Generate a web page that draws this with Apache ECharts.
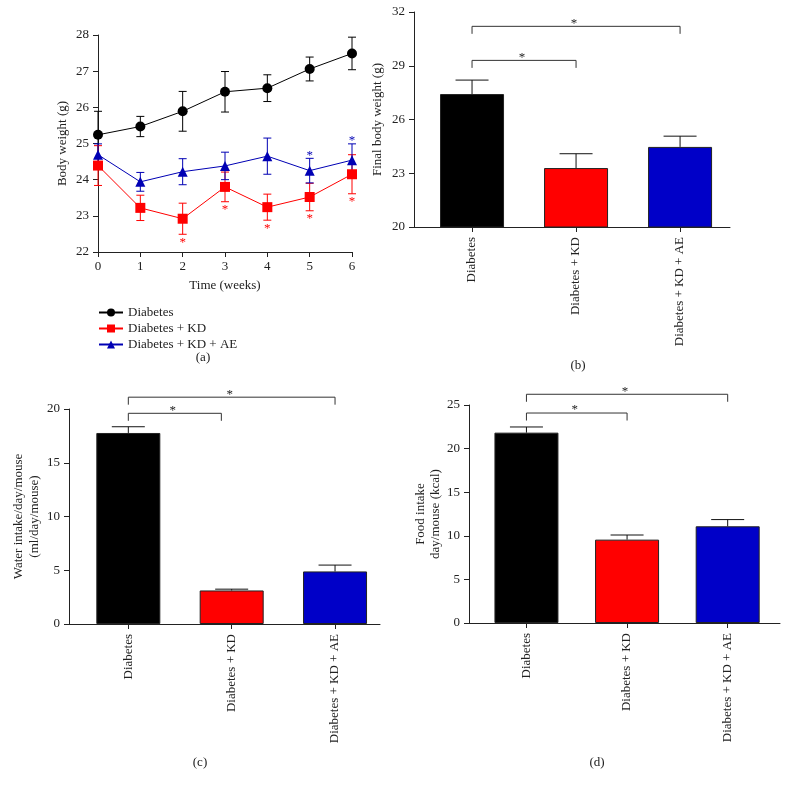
<!DOCTYPE html>
<html><head><meta charset="utf-8">
<script src="https://cdn.jsdelivr.net/npm/echarts@6/dist/echarts.min.js"></script>
<style>html,body{margin:0;padding:0;background:#fff}#c{width:793px;height:789px}</style>
</head><body><div id="c"></div>
<script>
// ---------- data ----------
const weeks = [0, 1, 2, 3, 4, 5, 6];
const seriesNames = ['Diabetes', 'Diabetes + KD', 'Diabetes + KD + AE'];
const bwDiabetes = [25.24, 25.47, 25.89, 26.43, 26.53, 27.06, 27.49];
const bwDiabetesErr = [0.65, 0.28, 0.55, 0.56, 0.37, 0.33, 0.45];
const bwKD = [24.39, 23.22, 22.92, 23.80, 23.24, 23.52, 24.15];
const bwKDErr = [0.55, 0.35, 0.43, 0.41, 0.36, 0.38, 0.54];
const bwAE = [24.69, 23.94, 24.22, 24.38, 24.65, 24.25, 24.54];
const bwAEErr = [0.30, 0.26, 0.36, 0.38, 0.50, 0.34, 0.45];
const kdSig = [false, false, true, true, true, true, true];
const aeSig = [false, false, false, false, false, true, true];

const groups = ['Diabetes', 'Diabetes + KD', 'Diabetes + KD + AE'];
const finalBW = [27.42, 23.29, 24.47];
const finalBWErr = [0.78, 0.80, 0.60];
const water = [17.77, 3.12, 4.89];
const waterErr = [0.58, 0.12, 0.59];
const food = [21.83, 9.56, 11.09];
const foodErr = [0.65, 0.53, 0.77];

// significance brackets: [from group, to group, level]
const finalBWBrackets = [[0, 1, 29.3], [0, 2, 31.2]];
const waterBrackets = [[0, 0.9, 19.6], [0, 2, 21.1]];
const foodBrackets = [[0, 1, 24.08], [0, 2, 26.23]];

const yTicksA = [22, 28, 1];
const yTicksB = [20, 32, 3];
const yTicksC = [0, 20, 5];
const yTicksD = [0, 25, 5];

// ---------- styles ----------
const FONT = 'Liberation Serif';
const TXT = '#222';
const lineColors = ['#000000', '#ff0000', '#0000b4'];
const barColors = ['#000000', '#ff0000', '#0000c8'];

const chart = echarts.init(document.getElementById('c'), null, {renderer: 'canvas'});

function errItemBoth(params, api) {
  const x = api.value(0), y = api.value(1), e = api.value(2);
  const c = api.visual('color');
  const t = api.coord([x, y + e]), b = api.coord([x, y - e]);
  const w = 4;
  return {type: 'group', children: [
    {type: 'line', shape: {x1: t[0], y1: t[1], x2: b[0], y2: b[1]}, style: {stroke: c, lineWidth: 1}},
    {type: 'line', shape: {x1: t[0] - w, y1: t[1], x2: t[0] + w, y2: t[1]}, style: {stroke: c, lineWidth: 1}},
    {type: 'line', shape: {x1: b[0] - w, y1: b[1], x2: b[0] + w, y2: b[1]}, style: {stroke: c, lineWidth: 1}}
  ]};
}
function errItemUp(params, api) {
  const x = api.value(0), y = api.value(1), e = api.value(2);
  const t = api.coord([x, y + e]), m = api.coord([x, y]);
  const w = 16.5;
  return {type: 'group', children: [
    {type: 'line', shape: {x1: t[0], y1: t[1], x2: m[0], y2: m[1]}, style: {stroke: '#111', lineWidth: 1}},
    {type: 'line', shape: {x1: t[0] - w, y1: t[1], x2: t[0] + w, y2: t[1]}, style: {stroke: '#111', lineWidth: 1}}
  ]};
}
function sigItem(below) {
  return function (params, api) {
    const x = api.value(0), y = api.value(1), e = api.value(2);
    const p = api.coord([x, below ? y - e : y + e]);
    return {type: 'text', style: {text: '*', x: p[0], y: p[1] + (below ? 8 : -3), align: 'center', verticalAlign: 'middle',
      font: '13px "' + FONT + '"', fill: api.visual('color')}};
  };
}
function bracketItem(params, api) {
  const y = api.value(2);
  const p0 = api.coord([api.value(0), y]), p1 = api.coord([api.value(1), y]);
  const d = 7.5;
  return {type: 'group', children: [
    {type: 'polyline', shape: {points: [[p0[0], p0[1] + d], [p0[0], p0[1]], [p1[0], p1[1]], [p1[0], p1[1] + d]]},
      style: {stroke: '#333', lineWidth: 1, fill: null}},
    {type: 'text', style: {text: '*', x: (p0[0] + p1[0]) / 2 - 2, y: p0[1] - 3, align: 'center', verticalAlign: 'middle',
      font: '13px "' + FONT + '"', fill: TXT}}
  ]};
}

const axisLine = {show: true, onZero: false, lineStyle: {color: '#222', width: 1}};
const axisTick = {show: true, length: 5, lineStyle: {color: '#222', width: 1}};
const lab = {color: TXT, fontFamily: FONT, fontSize: 13};

function yAx(grid, t, name, gap, lh) {
  return {type: 'value', gridIndex: grid, min: t[0], max: t[1], interval: t[2],
    axisLine: axisLine, axisTick: axisTick, splitLine: {show: false},
    axisLabel: Object.assign({margin: 9}, lab),
    name: name, nameLocation: 'middle', nameGap: gap, nameRotate: 90,
    nameTextStyle: {color: TXT, fontFamily: FONT, fontSize: 13, lineHeight: lh || 16}};
}
function xCat(grid, min, max) {
  return {type: 'value', gridIndex: grid, min: min, max: max,
    axisLine: axisLine, splitLine: {show: false},
    axisTick: Object.assign({customValues: [0, 1, 2]}, axisTick),
    axisLabel: Object.assign({customValues: [0, 1, 2], rotate: 90, margin: 10,
      formatter: v => groups[Math.round(v)]}, lab)};
}
function barSeries(xi, vals) {
  return {type: 'bar', xAxisIndex: xi, yAxisIndex: xi, barWidth: 64, clip: true,
    data: vals.map((v, i) => ({value: [i, v], itemStyle: {color: barColors[i]}})),
    itemStyle: {borderColor: '#222', borderWidth: 1}};
}
function barErr(xi, vals, errs) {
  return {type: 'custom', xAxisIndex: xi, yAxisIndex: xi, renderItem: errItemUp, z: 3,
    data: vals.map((v, i) => [i, v, errs[i]])};
}
function brackets(xi, br) {
  return {type: 'custom', xAxisIndex: xi, yAxisIndex: xi, renderItem: bracketItem, clip: false, z: 3, data: br};
}

const lineSets = [[bwDiabetes, bwDiabetesErr, 'circle'], [bwKD, bwKDErr, 'rect'], [bwAE, bwAEErr, 'triangle']];
const series = [];
lineSets.forEach((s, k) => {
  series.push({type: 'custom', xAxisIndex: 0, yAxisIndex: 0, renderItem: errItemBoth, z: 2,
    itemStyle: {color: lineColors[k]}, data: weeks.map((w, i) => [w, s[0][i], s[1][i]])});
});
lineSets.forEach((s, k) => {
  series.push({type: 'line', name: seriesNames[k], xAxisIndex: 0, yAxisIndex: 0, z: 4,
    data: weeks.map((w, i) => [w, s[0][i]]), symbol: s[2], symbolSize: 10, showAllSymbol: true,
    lineStyle: {color: lineColors[k], width: 1}, itemStyle: {color: lineColors[k]}});
});
series.push({type: 'custom', xAxisIndex: 0, yAxisIndex: 0, renderItem: sigItem(true), z: 4, itemStyle: {color: lineColors[1]},
  data: weeks.map((w, i) => [w, bwKD[i], bwKDErr[i]]).filter((d, i) => kdSig[i])});
series.push({type: 'custom', xAxisIndex: 0, yAxisIndex: 0, renderItem: sigItem(false), z: 4, itemStyle: {color: lineColors[2]},
  data: weeks.map((w, i) => [w, bwAE[i], bwAEErr[i]]).filter((d, i) => aeSig[i])});

series.push(barSeries(1, finalBW), barErr(1, finalBW, finalBWErr), brackets(1, finalBWBrackets));
series.push(barSeries(2, water), barErr(2, water, waterErr), brackets(2, waterBrackets));
series.push(barSeries(3, food), barErr(3, food, foodErr), brackets(3, foodBrackets));

const option = {
  animation: false,
  backgroundColor: '#fff',
  textStyle: {fontFamily: FONT},
  grid: [
    {left: 98, top: 35, width: 254, height: 217},
    {left: 414, top: 12, width: 316, height: 215},
    {left: 69, top: 409, width: 311, height: 215},
    {left: 469, top: 405, width: 311, height: 218}
  ],
  xAxis: [
    {type: 'value', gridIndex: 0, min: 0, max: 6, interval: 1, axisLine: axisLine, axisTick: axisTick,
      splitLine: {show: false}, axisLabel: Object.assign({margin: 8}, lab),
      name: 'Time (weeks)', nameLocation: 'middle', nameGap: 27,
      nameTextStyle: {color: TXT, fontFamily: FONT, fontSize: 13}},
    xCat(1, -0.558, 2.48),
    xCat(2, -0.574, 2.435),
    xCat(3, -0.571, 2.52)
  ],
  yAxis: [
    yAx(0, yTicksA, 'Body weight (g)', 27),
    yAx(1, yTicksB, 'Final body weight (g)', 28),
    yAx(2, yTicksC, 'Water intake/day/mouse\n(ml/day/mouse)', 26, 16),
    yAx(3, yTicksD, 'Food intake\nday/mouse (kcal)', 26, 15)
  ],
  legend: {orient: 'vertical', left: 93, top: 301, itemWidth: 24, itemHeight: 10, itemGap: 3,
    data: seriesNames, textStyle: {color: TXT, fontFamily: FONT, fontSize: 13}},
  graphic: [
    {type: 'text', x: 203, y: 358, style: {text: '(a)', align: 'center', verticalAlign: 'middle', font: '13px "' + FONT + '"', fill: TXT}},
    {type: 'text', x: 578, y: 366, style: {text: '(b)', align: 'center', verticalAlign: 'middle', font: '13px "' + FONT + '"', fill: TXT}},
    {type: 'text', x: 200, y: 763, style: {text: '(c)', align: 'center', verticalAlign: 'middle', font: '13px "' + FONT + '"', fill: TXT}},
    {type: 'text', x: 597, y: 763, style: {text: '(d)', align: 'center', verticalAlign: 'middle', font: '13px "' + FONT + '"', fill: TXT}}
  ],
  series: series
};
chart.setOption(option);
</script>
</body></html>
